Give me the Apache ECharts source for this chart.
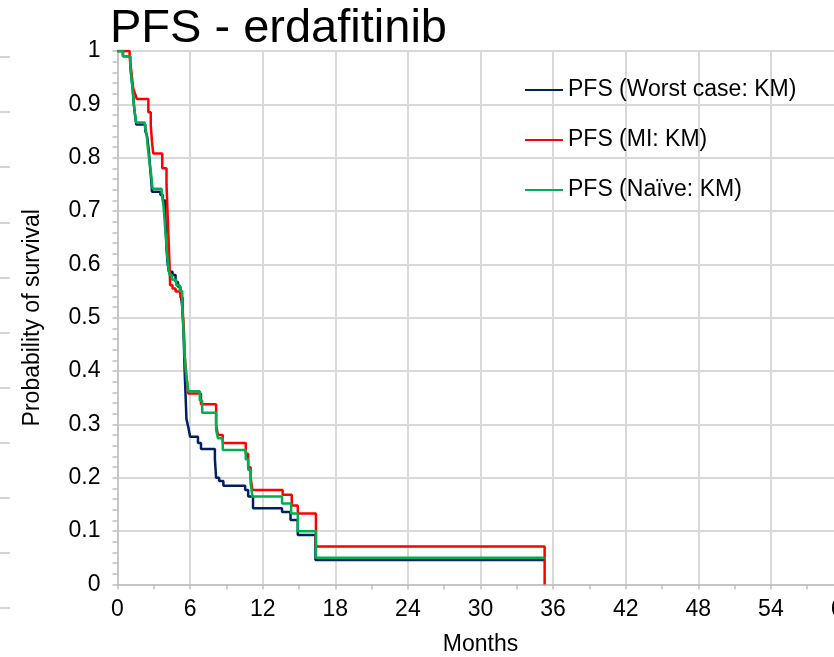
<!DOCTYPE html>
<html>
<head>
<meta charset="utf-8">
<title>PFS - erdafitinib</title>
<script src="https://cdn.jsdelivr.net/npm/echarts@6/dist/echarts.min.js"></script>
<style>
  html, body { margin: 0; padding: 0; background: #fff; }
  #chart { width: 834px; height: 657px; }
</style>
</head>
<body>
<div id="chart"></div>
<script>
// Kaplan-Meier progression-free survival estimates, [months, probability]
const worstCase = [
  [0, 1], [0.45, 0.99], [1.05, 0.975], [1.15, 0.95], [1.25, 0.93], [1.35, 0.9],
  [1.45, 0.88], [1.55, 0.862], [2.3, 0.85], [2.45, 0.84], [2.6, 0.81], [2.7, 0.78],
  [2.8, 0.755], [2.85, 0.736], [3.55, 0.73], [3.75, 0.72], [3.95, 0.69], [4.0, 0.66],
  [4.05, 0.63], [4.15, 0.6], [4.25, 0.586], [4.55, 0.58], [4.8, 0.567], [5.0, 0.558],
  [5.2, 0.55], [5.35, 0.52], [5.45, 0.48], [5.5, 0.44], [5.55, 0.4], [5.6, 0.37],
  [5.65, 0.34], [5.7, 0.31], [5.85, 0.295], [6.0, 0.277], [6.65, 0.265], [6.9, 0.254],
  [8.05, 0.235], [8.15, 0.2], [8.4, 0.194], [8.75, 0.185], [10.55, 0.177], [10.8, 0.165],
  [11.2, 0.143], [13.6, 0.136], [14.3, 0.121], [14.9, 0.093], [16.36, 0.046], [35.3, 0.046]
];
const multipleImputation = [
  [0, 1], [1.0, 0.99], [1.1, 0.97], [1.2, 0.95], [1.3, 0.93], [1.45, 0.92], [1.6, 0.91],
  [2.55, 0.885], [2.75, 0.86], [2.85, 0.83], [2.95, 0.808], [3.7, 0.78], [4.05, 0.75],
  [4.1, 0.72], [4.15, 0.69], [4.2, 0.66], [4.25, 0.63], [4.3, 0.6], [4.35, 0.561],
  [4.55, 0.555], [4.8, 0.549], [5.2, 0.538], [5.4, 0.51], [5.5, 0.47], [5.55, 0.43],
  [5.65, 0.4], [5.75, 0.38], [5.85, 0.358], [6.9, 0.338], [8.15, 0.3], [8.3, 0.28],
  [8.7, 0.265], [10.6, 0.245], [10.8, 0.22], [11.0, 0.2], [11.15, 0.177], [13.65, 0.168],
  [14.4, 0.148], [14.9, 0.133], [16.4, 0.071], [35.3, 0.071], [35.3, 0]
];
const naive = [
  [0, 1], [0.45, 0.99], [1.05, 0.975], [1.15, 0.95], [1.25, 0.93], [1.35, 0.9],
  [1.45, 0.88], [1.55, 0.866], [2.25, 0.86], [2.4, 0.845], [2.5, 0.82], [2.6, 0.8],
  [2.75, 0.775], [2.9, 0.742], [3.65, 0.735], [3.8, 0.71], [3.9, 0.68], [4.0, 0.65],
  [4.1, 0.62], [4.2, 0.595], [4.3, 0.58], [4.5, 0.571], [4.85, 0.561], [5.15, 0.55],
  [5.35, 0.52], [5.45, 0.48], [5.55, 0.43], [5.65, 0.4], [5.75, 0.38], [5.85, 0.362],
  [6.8, 0.345], [7.0, 0.322], [8.15, 0.29], [8.3, 0.274], [8.7, 0.252], [10.6, 0.235],
  [10.8, 0.215], [11.0, 0.19], [11.15, 0.165], [13.6, 0.152], [14.35, 0.133],
  [14.9, 0.1], [16.4, 0.05], [35.3, 0.05]
];

const seriesNames = ['PFS (Worst case: KM)', 'PFS (MI: KM)', 'PFS (Naïve: KM)'];
const seriesColors = ['#002060', '#ff0000', '#00b050'];
const seriesData = [worstCase, multipleImputation, naive];

const FONT = 'Liberation Sans, Arial, sans-serif';
const chart = echarts.init(document.getElementById('chart'), null, { renderer: 'canvas' });

chart.setOption({
  backgroundColor: '#fff',
  animation: false,
  title: {
    text: 'PFS - erdafitinib',
    left: 105,
    top: 1,
    textStyle: { fontFamily: FONT, fontSize: 47, fontWeight: 'normal', color: '#000' }
  },
  legend: {
    orient: 'vertical',
    left: 520,
    top: 73,
    itemWidth: 38,
    itemHeight: 2,
    itemGap: 26,
    icon: 'rect',
    textStyle: { fontFamily: FONT, fontSize: 23, color: '#000', lineHeight: 24 },
    data: seriesNames
  },
  grid: [
    { left: 117.5, top: 51, width: 726, height: 533.5, outerBoundsMode: 'none', containLabel: false },
    // faint tick marks of a neighbouring panel along the left edge
    { left: 0, top: 57, width: 10, height: 551, outerBoundsMode: 'none', containLabel: false }
  ],
  xAxis: [
    {
      type: 'value', gridIndex: 0, min: 0, max: 60, interval: 6,
      name: 'Months', nameLocation: 'middle', nameGap: 49,
      nameTextStyle: { fontFamily: FONT, fontSize: 23, color: '#000' },
      axisLine: { show: true, onZero: false, lineStyle: { color: '#bfbfbf', width: 1.5 } },
      axisTick: { show: true, length: 5, lineStyle: { color: '#bfbfbf', width: 1.5 } },
      minorTick: { show: true, splitNumber: 2, length: 5, lineStyle: { color: '#bfbfbf', width: 1.5 } },
      axisLabel: { fontFamily: FONT, fontSize: 23, color: '#000', margin: 14 },
      splitLine: { show: true, lineStyle: { color: '#d9d9d9', width: 2 } }
    },
    { type: 'value', gridIndex: 1, min: 0, max: 1, show: false }
  ],
  yAxis: [
    {
      type: 'value', gridIndex: 0, min: 0, max: 1, interval: 0.1,
      name: 'Probability of survival', nameLocation: 'middle', nameGap: 73, nameRotate: 90,
      nameTextStyle: { fontFamily: FONT, fontSize: 23, color: '#000' },
      axisLine: { show: true, lineStyle: { color: '#bfbfbf', width: 1.5 } },
      axisTick: { show: true, length: 5, lineStyle: { color: '#bfbfbf', width: 1.5 } },
      minorTick: { show: true, splitNumber: 5, length: 5, lineStyle: { color: '#bfbfbf', width: 1.5 } },
      axisLabel: { fontFamily: FONT, fontSize: 23, color: '#000', margin: 17 },
      splitLine: { show: true, lineStyle: { color: '#d9d9d9', width: 2 } }
    },
    {
      type: 'value', gridIndex: 1, min: 0, max: 10, interval: 1, position: 'left', inverse: true,
      axisLine: { show: false },
      axisTick: { show: true, inside: true, length: 10, lineStyle: { color: '#c8c8c8', width: 1.5 } },
      axisLabel: { show: false },
      splitLine: { show: false }
    }
  ],
  series: seriesData.map((data, i) => ({
    name: seriesNames[i],
    type: 'line',
    xAxisIndex: 0,
    yAxisIndex: 0,
    step: 'end',
    showSymbol: false,
    symbol: 'none',
    color: seriesColors[i],
    lineStyle: { color: seriesColors[i], width: 2.5 },
    data: data,
    z: 2 + i
  }))
});
</script>
</body>
</html>
